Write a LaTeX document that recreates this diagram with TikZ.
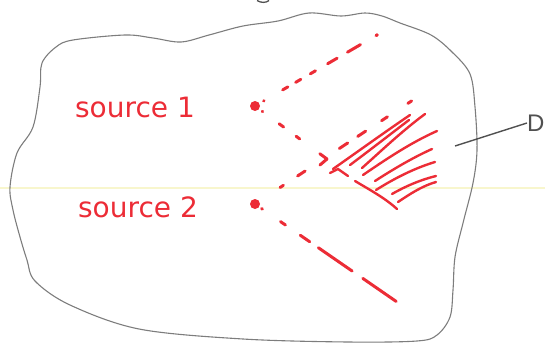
\documentclass[tikz,border=0pt]{standalone}
\usepackage{fontspec}
\newfontfamily\handfont{DejaVu Sans}
\newfontfamily\dfont{Liberation Sans}
\definecolor{pen}{RGB}{236,44,54}
\definecolor{pencil}{RGB}{125,125,125}
\definecolor{darkpencil}{RGB}{80,80,80}
\definecolor{scanline}{RGB}{248,246,205}
\tikzset{
  outline/.style={draw=pencil, line width=1.1pt},
  ray/.style={draw=pen, line width=3pt, line cap=round, line join=round},
  hatch/.style={draw=pen, line width=2.4pt, line cap=round},
  srcdot/.style={circle, fill=pen, inner sep=0pt, minimum size=10pt},
  lbl/.style={text=pen, font=\handfont\fontsize{28}{30}\selectfont, inner sep=0pt},
}
\begin{document}
\begin{tikzpicture}[x=1pt,y=-1pt]
\useasboundingbox (0,0) rectangle (545,345);
% faint scan line
\draw[scanline, line width=1.4pt] (0,188) -- (545,188);
% small mark at top
\draw[darkpencil, line width=1.3pt] (257,0.5) .. controls (261,3) and (266,3) .. (269,0.5);
% region outline
\draw[outline] plot[smooth cycle, tension=0.55] coordinates {
 (42,63) (56,47) (73,40) (125,35) (153,38) (181,42) (209,35) (243,26) (278,21)
 (309,13) (341,16) (365,13) (382,16) (400,23) (431,35) (452,52) (470,74)
 (475,107) (477,150) (473,183) (463,223) (455,257) (453,290) (450,317)
 (437,335) (417,341) (348,342) (243,339) (139,329) (70,305) (35,281) (27,260)
 (20,237) (13,210) (10,187) (17,153) (33,127) (40,87)};
% sources
\node[srcdot] (s1) at (255,106) {};
\node[srcdot] (s2) at (255,204) {};
\coordinate (e1) at (377,35);
\coordinate (a1) at (327,159);
\coordinate (a1b) at (320,165);
\coordinate (e3) at (413,100);
\coordinate (e4) at (397,302);
% rays
\draw[ray, dash pattern=on 0pt off 10pt on 0.5pt off 21.5pt on 6pt off 9pt on 6pt off 11pt on 6pt off 14pt on 11pt off 12pt on 15pt off 18pt on 1pt off 50pt] (s1.center) -- (e1);
\fill[pen] (e1) circle (1.8pt);
\draw[ray, dash pattern=on 0pt off 9pt on 0.5pt off 20.5pt on 5.5pt off 15.5pt on 4.5pt off 25pt on 9pt off 20pt] (s1.center) -- (a1);
\draw[ray] (a1) -- (a1b);
\draw[ray, dash pattern=on 0pt off 30pt on 4pt off 17pt on 9pt off 41pt on 10pt off 12pt on 9.5pt off 19pt on 7pt off 24.5pt on 4.5pt off 20pt] (s2.center) -- (e3);
\draw[ray, dash pattern=on 0pt off 8pt on 1pt off 22pt on 6pt off 18pt on 11.5pt off 10.5pt on 41pt off 13pt on 40.5pt off 10pt] (s2.center) -- (e4);
% hatched region D
\draw[hatch] (330,173) -- (338,169) -- (348,176);
\draw[hatch] (355,181) .. controls (370,190) and (385,198) .. (397,209);
\draw[hatch] (333,169) .. controls (360,150) and (385,132) .. (410,115);
\draw[hatch] (350,165) .. controls (370,150) and (392,133) .. (409,120);
\draw[hatch] (362,168) .. controls (380,152) and (402,131) .. (425,114);
\draw[hatch] (363,175) .. controls (385,160) and (410,143) .. (437,131);
\draw[hatch] (375,181) .. controls (392,170) and (412,158) .. (432,149);
\draw[hatch] (376,190) .. controls (395,178) and (415,168) .. (435,162);
\draw[hatch] (392,194) .. controls (406,186) and (420,180) .. (436,176);
\draw[hatch] (398,202) .. controls (410,194) and (422,186) .. (436,182);
% labels
\node[lbl] (l1) at (135,107) {source 1};
\node[lbl] (l2) at (138,207) {source 2};
\node[text=darkpencil, font=\dfont\fontsize{24}{26}\selectfont, inner sep=0pt, anchor=west] (d) at (527,123) {D};
\coordinate (dp) at (455,146);
\draw[darkpencil, line width=1.4pt] (dp) .. controls (480,138) and (505,130) .. (d.west);
\end{tikzpicture}
\end{document}
